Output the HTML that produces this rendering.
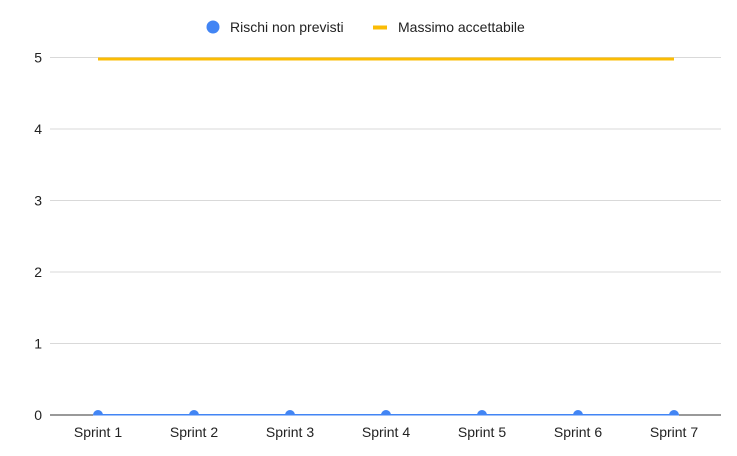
<!DOCTYPE html>
<html><head><meta charset="utf-8"><style>
body{margin:0;background:#fff;}
svg{display:block;font-family:"Liberation Sans",Arial,sans-serif;}
</style></head><body>
<svg id="c" width="737" height="456">
<defs><clipPath id="clip"><rect x="50" y="40" width="672" height="375.5"/></clipPath></defs>
<g>
<g><circle cx="213" cy="27" r="6.5" fill="#4285f4"/><text x="230" y="32" font-size="14" fill="#222">Rischi non previsti</text></g>
<g><rect x="373" y="25.5" width="14" height="4" fill="#fbbc04"/><text x="398" y="32" font-size="14" fill="#222">Massimo accettabile</text></g>
</g>
<g id="grid"></g>
<g id="ylab"></g>
<g id="xlab"></g>
<g id="series" clip-path="url(#clip)"></g>
</svg>
<script>
const categories=["Sprint 1","Sprint 2","Sprint 3","Sprint 4","Sprint 5","Sprint 6","Sprint 7"];
const rischi=[0,0,0,0,0,0,0];
const massimo=[5,5,5,5,5,5,5];
const yTicks=[0,1,2,3,4,5];
const NS="http://www.w3.org/2000/svg";
const x0=98,dx=96,yBase=415,yScale=71.5;
const xs=i=>x0+i*dx, ys=v=>yBase-v*yScale;
function mk(t,a,p){const e=document.createElementNS(NS,t);for(const k in a)e.setAttribute(k,a[k]);p.appendChild(e);return e;}
const grid=document.getElementById('grid'),ylab=document.getElementById('ylab'),xlab=document.getElementById('xlab'),ser=document.getElementById('series');
yTicks.forEach(v=>{
 if(v>0){const l=mk('line',{x1:50,x2:721,y1:ys(v),y2:ys(v),stroke:'#d9d9d9','stroke-width':1},grid);
 
 }
 const t=mk('text',{x:42,y:ys(v)+5,'font-size':14,fill:'#222','text-anchor':'end'},ylab);t.textContent=v;
 
 
});
const ax=mk('line',{x1:50,x2:721,y1:yBase,y2:yBase,stroke:'#333','stroke-width':1},grid);


categories.forEach((c,i)=>{const t=mk('text',{x:xs(i),y:437,'font-size':14,fill:'#222','text-anchor':'middle'},xlab);t.textContent=c;
 
 });
const pm=mk('polyline',{points:massimo.map((v,i)=>xs(i)+','+(ys(v)+1.5)).join(' '),fill:'none',stroke:'#fbbc04','stroke-width':3},ser);


const pr=mk('polyline',{points:rischi.map((v,i)=>xs(i)+','+ys(v)).join(' '),fill:'none',stroke:'#4285f4','stroke-width':2},ser);


rischi.forEach((v,i)=>{const c=mk('circle',{cx:xs(i),cy:ys(v),r:5,fill:'#4285f4'},ser);
 
 });
</script>
</body></html>
